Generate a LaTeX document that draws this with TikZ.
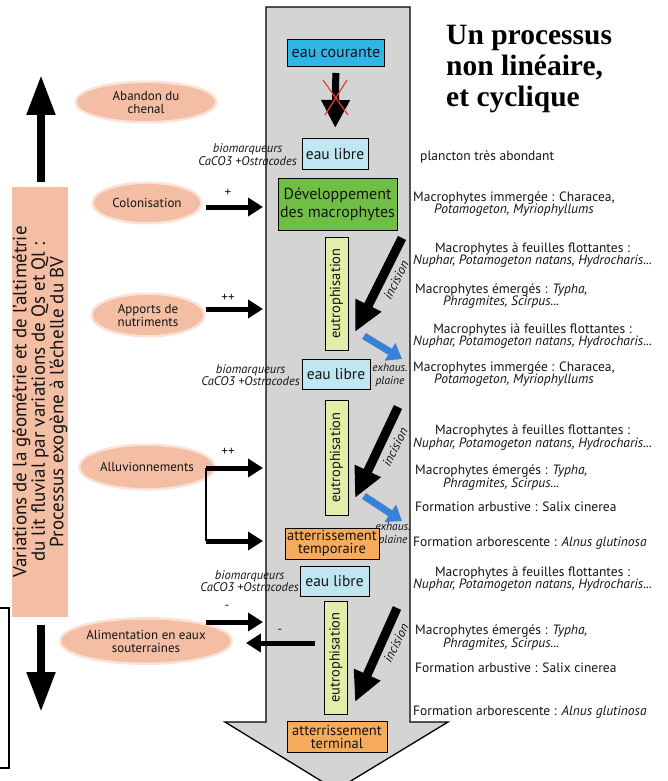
\documentclass[tikz,border=0pt]{standalone}
\usepackage{fontspec}
\setmainfont{PT Sans}
\newfontfamily\titlefont{Liberation Serif}
\usetikzlibrary{arrows.meta,shapes.geometric}

\definecolor{shaftgray}{RGB}{212,212,212}
\definecolor{salmon}{RGB}{243,190,163}
\definecolor{courante}{RGB}{45,182,230}
\definecolor{libre}{RGB}{192,230,242}
\definecolor{macro}{RGB}{112,190,68}
\definecolor{eutro}{RGB}{228,238,168}
\definecolor{atter}{RGB}{246,172,92}
\definecolor{exhaus}{RGB}{58,128,214}
\definecolor{cross}{RGB}{232,62,52}
\definecolor{ink}{RGB}{20,20,20}

\begin{document}
\begin{tikzpicture}[x=1pt,y=-1pt,
  every node/.style={text=ink},
  soft/.style={ellipse, fill=salmon, draw=salmon, draw opacity=0.45, line width=5pt,
    inner sep=0pt, align=center, font=\fontsize{13}{13}\selectfont},
  stagebox/.style={draw=black, line width=1pt, inner sep=0pt, align=center,
    font=\fontsize{15.5}{15}\selectfont},
  eutrobox/.style={draw=black, line width=1pt, fill=eutro, rotate=90,
    minimum height=23pt, inner sep=0pt, font=\fontsize{14.5}{14}\selectfont},
  pusharrow/.style={line width=5pt, -{Triangle[length=15pt,width=18pt]}},
  vertarrow/.style={line width=8pt, -{Triangle[length=40pt,width=27pt]}},
  bigarrow/.style={line width=9pt, -{Triangle[length=30pt,width=27pt]}},
  bluearrow/.style={exhaus, line width=7pt, -{Triangle[length=14pt,width=20pt]}},
  biomark/.style={anchor=east, align=center, inner sep=1pt, font=\fontsize{12.5}{12.5}\selectfont\itshape},
  exhlabel/.style={align=center, inner sep=0pt, font=\fontsize{11.5}{13}\selectfont\itshape},
  incis/.style={rotate=63, inner sep=0pt, font=\fontsize{13}{13}\selectfont\itshape},
  species/.style={anchor=west, align=center, inner sep=0pt, font=\fontsize{13.5}{12.5}\selectfont},
]
\useasboundingbox (0,0) rectangle (668,781);

% the big grey arrow carrying the succession
\filldraw[fill=shaftgray, draw=black, line width=1.3pt]
  (266,7) -- (410,7) -- (410,722) -- (448,722) -- (336,790) -- (225,722) -- (266,722) -- cycle;

% title
\node[anchor=west, align=left, inner sep=0pt, text=black,
  font=\titlefont\bfseries\fontsize{29.5}{31}\selectfont] (title) at (446,69)
  {Un processus\\non linéaire,\\et cyclique};

% left: exogenous control bar and its two arrows
\node[fill=salmon, rotate=90, minimum width=430pt, minimum height=56pt, inner sep=0pt,
  align=center, font=\fontsize{19}{17}\selectfont] (exo) at (40,402)
  {Variations de la géométrie et de l'altimétrie\\du lit fluvial par variations de Qs et Ql :\\Processus exogène à l'échelle du BV};
\coordinate (upfrom) at (41,182);
\coordinate (upto) at (41,75);
\coordinate (downfrom) at (41,625);
\coordinate (downto) at (41,712);
\draw[vertarrow] (upfrom) -- (upto);
\draw[vertarrow] (downfrom) -- (downto);

% small bracket on the far left
\draw[line width=1.3pt] (0,608) -- (9,608) -- (9,768) -- (0,768);

% driving factors
\node[soft, minimum width=138pt, minimum height=38pt] (aband) at (146,102) {Abandon du\\chenal};
\node[soft, minimum width=106pt, minimum height=38pt] (colo) at (147,203) {Colonisation};
\node[soft, minimum width=110pt, minimum height=40pt] (apport) at (148,315) {Apports de\\nutriments};
\node[soft, minimum width=108pt, minimum height=42pt] (alluv) at (147,467) {Alluvionnements};
\node[soft, minimum width=136pt, minimum height=43pt] (alim) at (146,641) {Alimentation en eaux\\souterraines};

% entry points on the grey arrow
\coordinate (colIn) at (263,207);
\coordinate (appIn) at (263,309);
\coordinate (allIn) at (263,468);
\coordinate (allIn2) at (263,541);
\coordinate (alimIn) at (263,622);
\coordinate (alimOut) at (315,643);
\coordinate (colOut) at (206,207);
\coordinate (appOut) at (206,309);
\coordinate (allOut) at (206,468);
\coordinate (allOut2) at (206,541);
\coordinate (alimSrc) at (206,622);

\draw[pusharrow] (colOut) -- (colIn);
\node[font=\fontsize{13}{13}\selectfont] (plus1) at (228,193) {+};
\draw[pusharrow] (appOut) -- (appIn);
\node[font=\fontsize{13}{13}\selectfont] (plus2) at (228,298) {++};
\draw[pusharrow] (allOut) -- (allIn);
\node[font=\fontsize{13}{13}\selectfont] (plus3) at (228,452) {++};
\draw[line width=2pt] (allOut) -- (allOut2);
\draw[pusharrow] (allOut2) -- (allIn2);
\draw[pusharrow] (alimSrc) -- (alimIn);
\node[font=\fontsize{13}{13}\selectfont] (minus1) at (227,607) {-};
\draw[pusharrow, shorten >=13pt] (alimOut) -- (alim.east |- alimOut);
\node[font=\fontsize{13}{13}\selectfont] (minus2) at (280,631) {-};

% succession stages
\node[stagebox, fill=courante, minimum width=97pt, minimum height=27pt,
  font=\fontsize{16}{16}\selectfont] (ec) at (336,53) {eau courante};
\node[stagebox, fill=libre, minimum width=66pt, minimum height=31pt] (el1) at (335,154) {eau libre};
\node[stagebox, fill=macro, minimum width=119pt, minimum height=52pt,
  font=\fontsize{16}{18}\selectfont] (dev) at (337.5,204) {Développement\\des macrophytes};
\node[eutrobox, minimum width=113pt] (eu1) at (336.5,293.5) {eutrophisation};
\node[stagebox, fill=libre, minimum width=68pt, minimum height=30pt] (el2) at (336,374) {eau libre};
\node[eutrobox, minimum width=115pt] (eu2) at (336.5,457.5) {eutrophisation};

% exhaussement labels (partly covered by the stage boxes)
\node[exhlabel] (ex1) at (390,375) {exhaus.\\plaine};
\node[exhlabel] (ex2) at (393,534) {exhaus.\\plaine};

\node[stagebox, fill=atter, minimum width=94pt, minimum height=31pt,
  font=\fontsize{14.5}{13}\selectfont] (at1) at (332,543.5) {atterrissement\\temporaire};
\node[stagebox, fill=libre, minimum width=69pt, minimum height=30pt] (el3) at (334.5,581) {eau libre};
\node[eutrobox, minimum width=113pt] (eu3) at (336,657.5) {eutrophisation};
\node[stagebox, fill=atter, minimum width=100pt, minimum height=31pt,
  font=\fontsize{14.5}{13}\selectfont] (at2) at (337,736.5) {atterrissement\\terminal};

% blocked transition from running to open water
\draw[line width=7pt, -{Triangle[length=28pt,width=27pt]}, shorten <=6pt, shorten >=10pt] (ec) -- (el1);
\draw[cross, line width=1.2pt] (323,80) -- (348,115) (347,80) -- (325,115);

% biomarker notes
\node[biomark] (bm1) at (298,154.5) {biomarqueurs\\CaCO3 +Ostracodes};
\node[biomark] (bm2) at (301,375) {biomarqueurs\\CaCO3 +Ostracodes};
\node[biomark] (bm3) at (300,581) {biomarqueurs\\CaCO3 +Ostracodes};

% incision and exhaussement arrows
\coordinate (i1a) at (402,238);
\coordinate (i1b) at (355,332);
\coordinate (i2a) at (398,407);
\coordinate (i2b) at (355,498);
\coordinate (i3a) at (397,608);
\coordinate (i3b) at (355,702);
\draw[bigarrow] (i1a) -- (i1b);
\draw[bigarrow] (i2a) -- (i2b);
\draw[bigarrow] (i3a) -- (i3b);
\node[incis] (inc1) at (396,280) {incision};
\node[incis] (inc2) at (395,447) {incision};
\node[incis] (inc3) at (396,643) {incision};

\coordinate (b1a) at (364,336);
\coordinate (b1b) at (402,359);
\coordinate (b2a) at (364,496);
\coordinate (b2b) at (402,521);
\draw[bluearrow] (b1a) -- (b1b);
\draw[bluearrow] (b2a) -- (b2b);

% vegetation described at each stage
\node[species] (v1) at (420,157) {plancton très abondant};
\node[species] (v2) at (413,204) {Macrophytes immergée : Characea,\\\textit{Potamogeton, Myriophyllums}};
\node[species] (v3) at (413,255) {Macrophytes à feuilles flottantes :\\\textit{Nuphar, Potamogeton natans, Hydrocharis...}};
\node[species] (v4) at (415,296) {Macrophytes émergés : \textit{Typha,}\\\textit{Phragmites, Scirpus...}};
\node[species] (v5) at (413,336) {Macrophytes ià feuilles flottantes :\\\textit{Nuphar, Potamogeton natans, Hydrocharis...}};
\node[species] (v6) at (413,374) {Macrophytes immergée : Characea,\\\textit{Potamogeton, Myriophyllums}};
\node[species] (v7) at (413,437.5) {Macrophytes à feuilles flottantes :\\\textit{Nuphar, Potamogeton natans, Hydrocharis...}};
\node[species] (v8) at (415,477.5) {Macrophytes émergés : \textit{Typha,}\\\textit{Phragmites, Scirpus...}};
\node[species] (v9) at (415,507) {Formation arbustive : Salix cinerea};
\node[species] (v10) at (413,543) {Formation arborescente : \textit{Alnus glutinosa}};
\node[species] (v11) at (413,579) {Macrophytes à feuilles flottantes :\\\textit{Nuphar, Potamogeton natans, Hydrocharis...}};
\node[species] (v12) at (415,637.5) {Macrophytes émergés : \textit{Typha,}\\\textit{Phragmites, Scirpus...}};
\node[species] (v13) at (415,668) {Formation arbustive : Salix cinerea};
\node[species] (v14) at (413,712) {Formation arborescente : \textit{Alnus glutinosa}};
\end{tikzpicture}
\end{document}
